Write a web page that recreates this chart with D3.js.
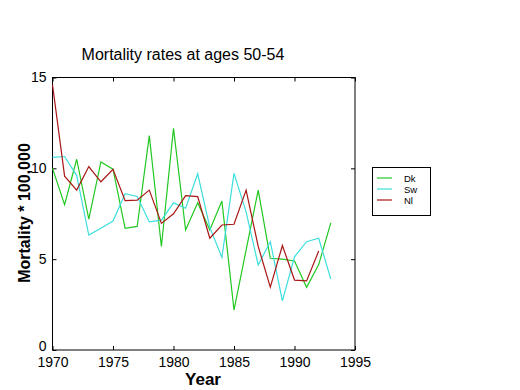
<!DOCTYPE html>
<html><head><meta charset="utf-8">
<script src="https://cdn.jsdelivr.net/npm/d3@7"></script>
<style>body{margin:0;background:#fff}svg{display:block}text{font-family:"Liberation Sans",Arial,sans-serif}</style>
</head><body>
<script>
const years = d3.range(1970, 1994);
const dk = [10.0,8.0,10.5,7.2,10.35,9.95,6.7,6.8,11.8,5.7,12.2,6.6,8.1,6.6,8.2,2.2,5.5,8.8,5.05,5.0,4.9,3.45,4.7,7.0];
const sw = [10.6,10.65,9.6,6.33,6.7,7.1,8.6,8.45,7.05,7.15,8.1,7.8,9.7,6.75,5.1,9.72,7.6,4.68,5.96,2.7,5.13,5.96,6.15,3.9];
const nl = [14.6,9.57,8.8,10.1,9.26,9.95,8.22,8.25,8.8,6.97,7.5,8.5,8.44,6.15,6.88,6.92,8.8,5.7,3.46,5.75,3.85,3.8,5.45];
const xTicks = [1970,1975,1980,1985,1990,1995];
const yTicks = [0,5,10,15];
const seriesNames = ["Dk","Sw","Nl"];
const colors = ["#22c822","#3ddede","#a81515"];

const W=520,H=390;
const svg=d3.select("body").append("svg").attr("width",W).attr("height",H);
const x=d3.scaleLinear().domain([1970,1995]).range([52.5,355]);
const y=d3.scaleLinear().domain([0,15]).range([350,77.5]);

const g=svg.append("g");
g.append("rect").attr("x",52.5).attr("y",77.5).attr("width",302.5).attr("height",272.5)
 .attr("fill","none").attr("stroke","#000").attr("stroke-width",1);

const xb=g.append("g").attr("transform","translate(0,350)").call(d3.axisBottom(x).tickValues(xTicks).tickFormat(d3.format("d")).tickSizeInner(-4).tickSizeOuter(0));
const xt=g.append("g").attr("transform","translate(0,77.5)").call(d3.axisTop(x).tickValues(xTicks).tickFormat("").tickSizeInner(-4).tickSizeOuter(0));
const yl=g.append("g").attr("transform","translate(52.5,0)").call(d3.axisLeft(y).tickValues(yTicks).tickSizeInner(-4).tickSizeOuter(0).tickPadding(6));
const yr=g.append("g").attr("transform","translate(355,0)").call(d3.axisRight(y).tickValues(yTicks).tickFormat("").tickSizeInner(-4).tickSizeOuter(0));
[xb,xt,yl,yr].forEach(a=>{a.select(".domain").remove();a.selectAll("line").attr("stroke","#000");a.selectAll("text").attr("font-size",14).attr("fill","#000").attr("font-family","Liberation Sans, Arial, sans-serif");});
xb.selectAll("text").attr("y",17).attr("dy","0");
yl.selectAll(".tick").filter(d=>d===0).select("text").attr("dy","0").attr("y",0);

const data=[dk,sw,nl];
const line=d3.line().x((d,i)=>x(years[i])).y(d=>y(d));
data.forEach((s,k)=>{
  g.append("path").datum(s).attr("d",line).attr("fill","none").attr("stroke",colors[k]).attr("stroke-width",1.2);
});

svg.append("text").attr("x",183).attr("y",60).attr("text-anchor","middle").attr("font-size",16).text("Mortality rates at ages 50-54");
svg.append("text").attr("x",203).attr("y",385).attr("text-anchor","middle").attr("font-size",17).attr("font-weight","bold").text("Year");
svg.append("text").attr("transform","translate(30,213) rotate(-90)").attr("text-anchor","middle").attr("font-size",16).attr("font-weight","bold").text("Mortality * 100,000");

const lg=svg.append("g");
lg.append("rect").attr("x",372.5).attr("y",167.5).attr("width",58).attr("height",48).attr("fill","#fff").attr("stroke","#000");
seriesNames.forEach((n,i)=>{
  const yy=178+i*11;
  lg.append("line").attr("x1",377).attr("x2",392).attr("y1",yy).attr("y2",yy).attr("stroke",colors[i]).attr("stroke-width",1.2);
  lg.append("text").attr("x",404).attr("y",yy+3.5).attr("font-size",9.5).text(n);
});
</script>
</body></html>
